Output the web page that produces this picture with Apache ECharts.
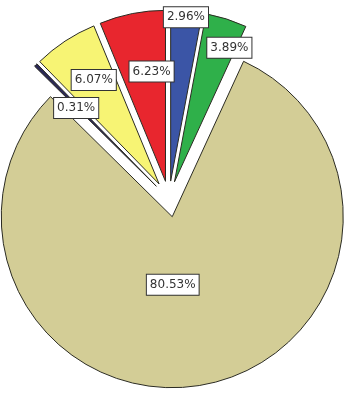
<!DOCTYPE html>
<html>
<head>
<meta charset="utf-8">
<script src="https://cdn.jsdelivr.net/npm/echarts@6/dist/echarts.min.js"></script>
<style>
  html, body { margin: 0; padding: 0; background: #fff; }
  #chart { width: 344px; height: 400px; }
</style>
</head>
<body>
<div id="chart"></div>
<script>
  // slices, clockwise from 12 o'clock
  var names = ['A', 'B', 'C', 'D', 'E', 'F'];
  var values = [2.96, 3.89, 80.53, 0.31, 6.07, 6.23];
  var colors = ['#3b55a6', '#2fb04a', '#d3cd96', '#2a2856', '#f7f474', '#e8262e'];
  // where each label sits: share of the radius, and a turn (degrees) off the slice middle
  var labelPos = [0.944, 0.83, 0.38, 0.637, 0.70, 0.63];
  var labelTurn = [0, 4.7, 10.4, -0.9, 1.2, 4.1];

  var RADIUS = 171;
  var total = values.reduce(function (a, b) { return a + b; }, 0);

  // mid angle of each slice (radians, clockwise from top)
  var midAngle = [];
  var acc = 0;
  values.forEach(function (v) {
    midAngle.push((acc + v / 2) / total * Math.PI * 2);
    acc += v;
  });

  var data = values.map(function (v, i) {
    return {
      name: names[i],
      value: v,
      selected: true,
      itemStyle: { color: colors[i] }
    };
  });

  var chart = echarts.init(document.getElementById('chart'));
  chart.setOption({
    animation: false,
    series: [{
      type: 'pie',
      center: [169, 199],
      radius: [0, RADIUS],
      startAngle: 90,
      clockwise: true,
      selectedMode: 'multiple',
      selectedOffset: 18,
      avoidLabelOverlap: false,
      emphasis: { disabled: true },
      itemStyle: { borderColor: '#2b2b22', borderWidth: 1 },
      label: {
        position: 'inside',
        formatter: function (p) { return p.value.toFixed(2) + '%'; },
        fontFamily: 'DejaVu Sans',
        fontSize: 12,
        lineHeight: 13,
        color: '#333',
        backgroundColor: '#fff',
        borderColor: '#333',
        borderWidth: 1,
        padding: [4, 3, 3, 3]
      },
      labelLayout: function (p) {
        var i = p.dataIndex;
        var a = midAngle[i];
        var dist = labelPos[i] * RADIUS;
        var b = a + labelTurn[i] * Math.PI / 180;
        // shift from the default spot (half radius on the middle line)
        return {
          dx: Math.sin(b) * dist - Math.sin(a) * RADIUS / 2,
          dy: -Math.cos(b) * dist + Math.cos(a) * RADIUS / 2
        };
      },
      data: data
    }]
  });
</script>
</body>
</html>
